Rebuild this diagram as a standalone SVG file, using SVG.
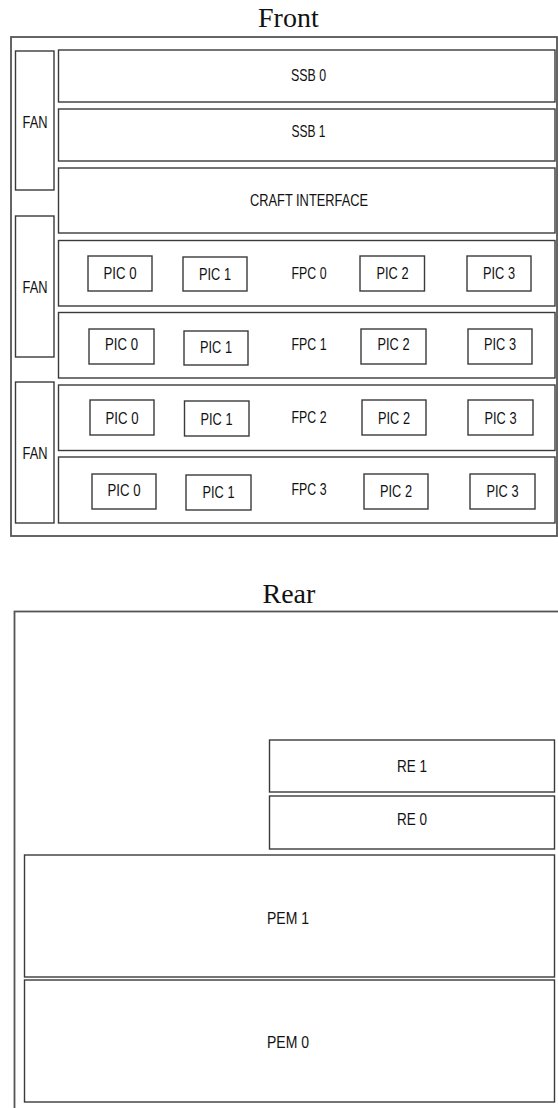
<svg xmlns="http://www.w3.org/2000/svg" width="558" height="1108" viewBox="0 0 558 1108">
<style>
.box{fill:#fff;stroke:#3a3a3a;stroke-width:1.4}
.outer{fill:#fff;stroke:#555;stroke-width:1.8}
.t{font-family:"Liberation Sans",Arial,sans-serif;font-size:17px;fill:#111;text-anchor:middle}
.title{font-family:"Liberation Serif","Times New Roman",serif;font-size:28px;fill:#111}
</style>
<rect width="558" height="1108" fill="#fff"/>
<text class="title" x="258" y="27">Front</text>
<rect id="front" class="outer" x="11" y="37" width="546" height="499"/>
<g id="fan1"><rect class="box" x="15.5" y="51" width="38.5" height="139"/><text class="t" x="35" y="128" textLength="25" lengthAdjust="spacingAndGlyphs">FAN</text></g>
<g id="fan2"><rect class="box" x="15.5" y="216" width="38.5" height="141"/><text class="t" x="35" y="293" textLength="25" lengthAdjust="spacingAndGlyphs">FAN</text></g>
<g id="fan3"><rect class="box" x="15.5" y="382" width="38.5" height="141"/><text class="t" x="35" y="459" textLength="25" lengthAdjust="spacingAndGlyphs">FAN</text></g>
<g id="ssb0"><rect class="box" x="58.5" y="50" width="496.5" height="52"/><text class="t" x="308.5" y="81" textLength="35" lengthAdjust="spacingAndGlyphs">SSB 0</text></g>
<g id="ssb1"><rect class="box" x="58.5" y="109" width="496.5" height="52"/><text class="t" x="308.5" y="137" textLength="34" lengthAdjust="spacingAndGlyphs">SSB 1</text></g>
<g id="craft"><rect class="box" x="58.5" y="168" width="496.5" height="65"/><text class="t" x="309" y="206" textLength="118" lengthAdjust="spacingAndGlyphs">CRAFT INTERFACE</text></g>
<g id="fpc0"><rect class="box" x="58.5" y="240.5" width="496.5" height="65.5"/><text class="t" x="309" y="279" textLength="35" lengthAdjust="spacingAndGlyphs">FPC 0</text>
<rect class="box" x="88" y="256" width="64" height="35"/><text class="t" x="120" y="279" textLength="33" lengthAdjust="spacingAndGlyphs">PIC 0</text>
<rect class="box" x="183" y="257" width="64" height="34"/><text class="t" x="215" y="279.5" textLength="32" lengthAdjust="spacingAndGlyphs">PIC 1</text>
<rect class="box" x="360" y="256" width="64.5" height="35"/><text class="t" x="392.5" y="279" textLength="32" lengthAdjust="spacingAndGlyphs">PIC 2</text>
<rect class="box" x="467" y="256" width="64" height="35"/><text class="t" x="499" y="279" textLength="32" lengthAdjust="spacingAndGlyphs">PIC 3</text></g>
<g id="fpc1"><rect class="box" x="58.5" y="312.5" width="496.5" height="65.5"/><text class="t" x="309" y="350" textLength="35" lengthAdjust="spacingAndGlyphs">FPC 1</text>
<rect class="box" x="89" y="329" width="65" height="35"/><text class="t" x="121.5" y="350" textLength="33" lengthAdjust="spacingAndGlyphs">PIC 0</text>
<rect class="box" x="184" y="331" width="64" height="34"/><text class="t" x="216" y="353" textLength="32" lengthAdjust="spacingAndGlyphs">PIC 1</text>
<rect class="box" x="361" y="329" width="65" height="35"/><text class="t" x="393.5" y="350" textLength="32" lengthAdjust="spacingAndGlyphs">PIC 2</text>
<rect class="box" x="468" y="329" width="64" height="35"/><text class="t" x="500" y="350" textLength="32" lengthAdjust="spacingAndGlyphs">PIC 3</text></g>
<g id="fpc2"><rect class="box" x="58.5" y="385" width="496.5" height="65.5"/><text class="t" x="309" y="423" textLength="35" lengthAdjust="spacingAndGlyphs">FPC 2</text>
<rect class="box" x="90" y="400" width="64" height="35"/><text class="t" x="122" y="424" textLength="33" lengthAdjust="spacingAndGlyphs">PIC 0</text>
<rect class="box" x="184.5" y="401" width="64.5" height="35"/><text class="t" x="216.5" y="425" textLength="32" lengthAdjust="spacingAndGlyphs">PIC 1</text>
<rect class="box" x="362" y="400" width="64" height="35"/><text class="t" x="394" y="423.5" textLength="32" lengthAdjust="spacingAndGlyphs">PIC 2</text>
<rect class="box" x="468" y="400" width="65" height="35"/><text class="t" x="500.5" y="423.5" textLength="32" lengthAdjust="spacingAndGlyphs">PIC 3</text></g>
<g id="fpc3"><rect class="box" x="58.5" y="457" width="496.5" height="66"/><text class="t" x="309" y="495" textLength="35" lengthAdjust="spacingAndGlyphs">FPC 3</text>
<rect class="box" x="92" y="474" width="64" height="35"/><text class="t" x="124" y="496" textLength="33" lengthAdjust="spacingAndGlyphs">PIC 0</text>
<rect class="box" x="186" y="475" width="65" height="35"/><text class="t" x="218.5" y="498" textLength="32" lengthAdjust="spacingAndGlyphs">PIC 1</text>
<rect class="box" x="364" y="474" width="64" height="35"/><text class="t" x="396" y="496.5" textLength="32" lengthAdjust="spacingAndGlyphs">PIC 2</text>
<rect class="box" x="470" y="474" width="65" height="35"/><text class="t" x="502.5" y="497" textLength="32" lengthAdjust="spacingAndGlyphs">PIC 3</text></g>
<text class="title" x="262.5" y="602.5">Rear</text>
<rect id="rear" class="outer" x="14.5" y="611.5" width="548" height="510"/>
<g id="re1"><rect class="box" x="269.5" y="740" width="285" height="52"/><text class="t" x="412" y="772" textLength="30" lengthAdjust="spacingAndGlyphs">RE 1</text></g>
<g id="re0"><rect class="box" x="269.5" y="796" width="285" height="53"/><text class="t" x="412" y="825" textLength="30" lengthAdjust="spacingAndGlyphs">RE 0</text></g>
<g id="pem1"><rect class="box" x="24.5" y="855" width="530" height="122"/><text class="t" x="288" y="924" textLength="42" lengthAdjust="spacingAndGlyphs">PEM 1</text></g>
<g id="pem0"><rect class="box" x="24.5" y="980" width="530" height="122"/><text class="t" x="288" y="1048" textLength="42" lengthAdjust="spacingAndGlyphs">PEM 0</text></g>
<g id="connectors"/>
</svg>
